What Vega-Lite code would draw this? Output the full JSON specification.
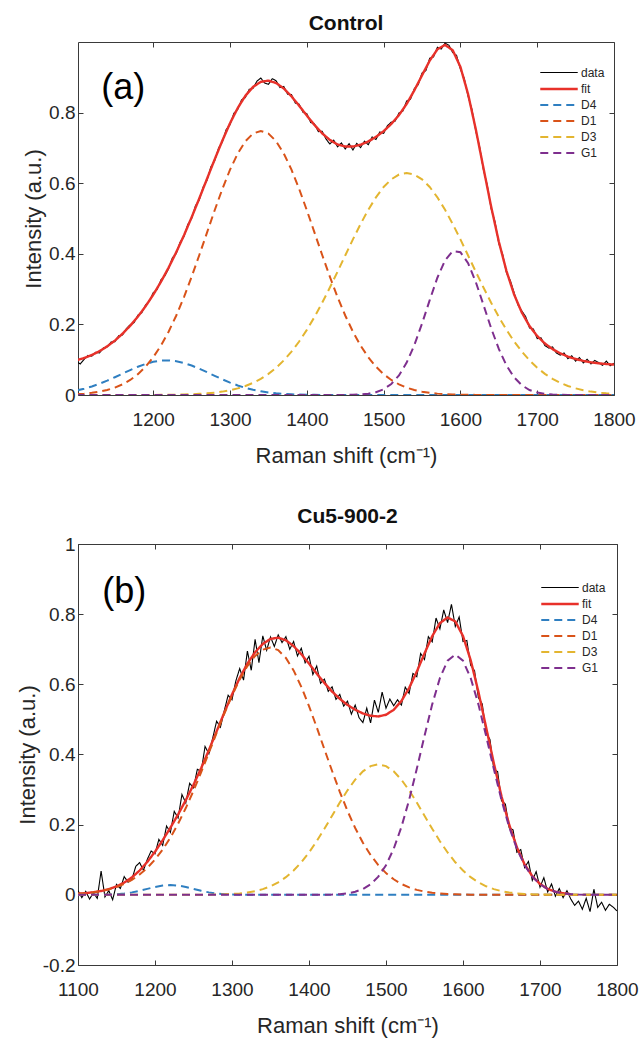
{
"$schema": "https://vega.github.io/schema/vega-lite/v6.json",
"padding": {"left": 15, "top": 12, "right": 5, "bottom": 5},
"bounds": "flush",
"spacing": 149,
"config": {
  "font": "Liberation Sans",
  "view": {"stroke": "#3a3a3a", "strokeWidth": 1},
  "axis": {"labelFont": "Liberation Sans", "titleFont": "Liberation Sans", "labelFontSize": 19, "titleFontSize": 22, "titleFontWeight": "normal", "labelColor": "#262626", "titleColor": "#262626", "tickColor": "#3a3a3a", "tickSize": -5, "grid": false, "domain": false, "labelPadding": 8, "labelFlush": false, "labelOverlap": false},
  "axisX": {"labelPadding": 20, "titlePadding": 16},
  "axisY": {"titlePadding": 3},
  "title": {"font": "Liberation Sans", "fontSize": 21, "fontWeight": "bold", "color": "#111111"},
  "legend": {"labelFont": "Liberation Sans", "labelFontSize": 12, "labelColor": "#262626", "symbolType": "M-2.2,0H2.2", "symbolSize": 290, "rowPadding": -1, "labelOffset": 12, "padding": 0, "title": null}
},
"resolve": {"scale": {"color": "independent", "strokeDash": "independent", "strokeWidth": "independent"}},
"datasets": {
"da": [
{"x":1100,"data":0.094},{"x":1105,"data":0.088},{"x":1110,"data":0.101},{"x":1115,"data":0.112},{"x":1120,"data":0.110},{"x":1125,"data":0.121},{"x":1130,"data":0.119},{"x":1135,"data":0.133},{"x":1140,"data":0.136},{"x":1145,"data":0.150},
{"x":1150,"data":0.151},{"x":1155,"data":0.168},{"x":1160,"data":0.170},{"x":1165,"data":0.188},{"x":1170,"data":0.199},{"x":1175,"data":0.205},{"x":1180,"data":0.226},{"x":1185,"data":0.233},{"x":1190,"data":0.255},{"x":1195,"data":0.266},
{"x":1200,"data":0.290},{"x":1205,"data":0.299},{"x":1210,"data":0.326},{"x":1215,"data":0.337},{"x":1220,"data":0.358},{"x":1225,"data":0.389},{"x":1230,"data":0.401},{"x":1235,"data":0.433},{"x":1240,"data":0.449},{"x":1245,"data":0.483},
{"x":1250,"data":0.500},{"x":1255,"data":0.536},{"x":1260,"data":0.553},{"x":1265,"data":0.589},{"x":1270,"data":0.608},{"x":1275,"data":0.646},{"x":1280,"data":0.664},{"x":1285,"data":0.699},{"x":1290,"data":0.717},{"x":1295,"data":0.752},
{"x":1300,"data":0.766},{"x":1305,"data":0.798},{"x":1310,"data":0.809},{"x":1315,"data":0.836},{"x":1320,"data":0.843},{"x":1325,"data":0.866},{"x":1330,"data":0.869},{"x":1335,"data":0.889},{"x":1340,"data":0.898},{"x":1345,"data":0.884},
{"x":1350,"data":0.880},{"x":1355,"data":0.896},{"x":1360,"data":0.890},{"x":1365,"data":0.871},{"x":1370,"data":0.874},{"x":1375,"data":0.852},{"x":1380,"data":0.851},{"x":1385,"data":0.827},{"x":1390,"data":0.824},{"x":1395,"data":0.801},
{"x":1400,"data":0.797},{"x":1405,"data":0.772},{"x":1410,"data":0.768},{"x":1415,"data":0.746},{"x":1420,"data":0.747},{"x":1425,"data":0.725},{"x":1430,"data":0.711},{"x":1435,"data":0.722},{"x":1440,"data":0.703},{"x":1445,"data":0.714},
{"x":1450,"data":0.697},{"x":1455,"data":0.712},{"x":1460,"data":0.694},{"x":1465,"data":0.713},{"x":1470,"data":0.701},{"x":1475,"data":0.719},{"x":1480,"data":0.709},{"x":1485,"data":0.731},{"x":1490,"data":0.724},{"x":1495,"data":0.745},
{"x":1500,"data":0.741},{"x":1505,"data":0.763},{"x":1510,"data":0.773},{"x":1515,"data":0.776},{"x":1520,"data":0.799},{"x":1525,"data":0.804},{"x":1530,"data":0.833},{"x":1535,"data":0.838},{"x":1540,"data":0.868},{"x":1545,"data":0.879},
{"x":1550,"data":0.912},{"x":1555,"data":0.919},{"x":1560,"data":0.954},{"x":1565,"data":0.958},{"x":1570,"data":0.985},{"x":1575,"data":0.980},{"x":1580,"data":0.997},{"x":1585,"data":0.991},{"x":1590,"data":0.970},{"x":1595,"data":0.962},
{"x":1600,"data":0.923},{"x":1605,"data":0.897},{"x":1610,"data":0.846},{"x":1615,"data":0.809},{"x":1620,"data":0.748},{"x":1625,"data":0.703},{"x":1630,"data":0.638},{"x":1635,"data":0.594},{"x":1640,"data":0.528},{"x":1645,"data":0.491},
{"x":1650,"data":0.429},{"x":1655,"data":0.398},{"x":1660,"data":0.346},{"x":1665,"data":0.324},{"x":1670,"data":0.289},{"x":1675,"data":0.255},{"x":1680,"data":0.238},{"x":1685,"data":0.222},{"x":1690,"data":0.190},{"x":1695,"data":0.187},
{"x":1700,"data":0.160},{"x":1705,"data":0.162},{"x":1710,"data":0.140},{"x":1715,"data":0.133},{"x":1720,"data":0.136},{"x":1725,"data":0.119},{"x":1730,"data":0.113},{"x":1735,"data":0.119},{"x":1740,"data":0.103},{"x":1745,"data":0.111},
{"x":1750,"data":0.096},{"x":1755,"data":0.106},{"x":1760,"data":0.091},{"x":1765,"data":0.101},{"x":1770,"data":0.088},{"x":1775,"data":0.098},{"x":1780,"data":0.092},{"x":1785,"data":0.084},{"x":1790,"data":0.096},{"x":1795,"data":0.083},{"x":1800,"data":0.090}
],
"ca": [
{"x":1100,"fit":0.0983,"D4":0.0128,"D1":0.0025,"D3":0,"G1":0},
{"x":1110,"fit":0.1048,"D4":0.0179,"D1":0.0039,"D3":0,"G1":0},
{"x":1120,"fit":0.1133,"D4":0.0242,"D1":0.0061,"D3":0,"G1":0},
{"x":1130,"fit":0.1242,"D4":0.0318,"D1":0.0094,"D3":0,"G1":0},
{"x":1140,"fit":0.1378,"D4":0.0406,"D1":0.0142,"D3":0,"G1":0},
{"x":1150,"fit":0.1541,"D4":0.0503,"D1":0.0208,"D3":0,"G1":0},
{"x":1160,"fit":0.1736,"D4":0.0605,"D1":0.0301,"D3":0,"G1":0},
{"x":1170,"fit":0.1962,"D4":0.0706,"D1":0.0426,"D3":0,"G1":0},
{"x":1180,"fit":0.2221,"D4":0.0800,"D1":0.0590,"D3":0.0001,"G1":0},
{"x":1190,"fit":0.2513,"D4":0.0879,"D1":0.0803,"D3":0.0001,"G1":0},
{"x":1200,"fit":0.2841,"D4":0.0939,"D1":0.1070,"D3":0.0002,"G1":0},
{"x":1210,"fit":0.3207,"D4":0.0973,"D1":0.1400,"D3":0.0004,"G1":0},
{"x":1220,"fit":0.3609,"D4":0.0979,"D1":0.1794,"D3":0.0006,"G1":0},
{"x":1230,"fit":0.4048,"D4":0.0956,"D1":0.2253,"D3":0.0009,"G1":0},
{"x":1240,"fit":0.4524,"D4":0.0906,"D1":0.2774,"D3":0.0014,"G1":0},
{"x":1250,"fit":0.5035,"D4":0.0834,"D1":0.3350,"D3":0.0021,"G1":0},
{"x":1260,"fit":0.5572,"D4":0.0745,"D1":0.3965,"D3":0.0032,"G1":0},
{"x":1270,"fit":0.6124,"D4":0.0646,"D1":0.4601,"D3":0.0047,"G1":0},
{"x":1280,"fit":0.6674,"D4":0.0543,"D1":0.5234,"D3":0.0067,"G1":0},
{"x":1290,"fit":0.7207,"D4":0.0444,"D1":0.5837,"D3":0.0096,"G1":0},
{"x":1300,"fit":0.7700,"D4":0.0352,"D1":0.6383,"D3":0.0135,"G1":0},
{"x":1310,"fit":0.8130,"D4":0.0271,"D1":0.6841,"D3":0.0188,"G1":0},
{"x":1320,"fit":0.8477,"D4":0.0202,"D1":0.7189,"D3":0.0256,"G1":0},
{"x":1330,"fit":0.8728,"D4":0.0147,"D1":0.7406,"D3":0.0345,"G1":0},
{"x":1340,"fit":0.8871,"D4":0.0103,"D1":0.7480,"D3":0.0458,"G1":0},
{"x":1350,"fit":0.8906,"D4":0.0071,"D1":0.7406,"D3":0.0599,"G1":0},
{"x":1360,"fit":0.8838,"D4":0.0047,"D1":0.7189,"D3":0.0772,"G1":0},
{"x":1370,"fit":0.8682,"D4":0.0030,"D1":0.6841,"D3":0.0981,"G1":0},
{"x":1380,"fit":0.8461,"D4":0.0019,"D1":0.6383,"D3":0.1229,"G1":0},
{"x":1390,"fit":0.8194,"D4":0.0011,"D1":0.5837,"D3":0.1516,"G1":0},
{"x":1400,"fit":0.7916,"D4":0.0007,"D1":0.5234,"D3":0.1845,"G1":0},
{"x":1410,"fit":0.7647,"D4":0.0004,"D1":0.4601,"D3":0.2212,"G1":0},
{"x":1420,"fit":0.7411,"D4":0.0002,"D1":0.3965,"D3":0.2614,"G1":0},
{"x":1430,"fit":0.7225,"D4":0.0001,"D1":0.3350,"D3":0.3044,"G1":0},
{"x":1440,"fit":0.7099,"D4":0,"D1":0.2774,"D3":0.3494,"G1":0.0001},
{"x":1450,"fit":0.7038,"D4":0,"D1":0.2253,"D3":0.3953,"G1":0.0002},
{"x":1460,"fit":0.7038,"D4":0,"D1":0.1794,"D3":0.4408,"G1":0.0006},
{"x":1470,"fit":0.7089,"D4":0,"D1":0.1400,"D3":0.4844,"G1":0.0015},
{"x":1480,"fit":0.7182,"D4":0,"D1":0.1070,"D3":0.5246,"G1":0.0036},
{"x":1490,"fit":0.7312,"D4":0,"D1":0.0803,"D3":0.5600,"G1":0.0079},
{"x":1500,"fit":0.7475,"D4":0,"D1":0.0590,"D3":0.5892,"G1":0.0163},
{"x":1510,"fit":0.7678,"D4":0,"D1":0.0426,"D3":0.6110,"G1":0.0312},
{"x":1520,"fit":0.7931,"D4":0,"D1":0.0301,"D3":0.6245,"G1":0.0555},
{"x":1530,"fit":0.8246,"D4":0,"D1":0.0208,"D3":0.6290,"G1":0.0918},
{"x":1540,"fit":0.8630,"D4":0,"D1":0.0142,"D3":0.6245,"G1":0.1413},
{"x":1550,"fit":0.9056,"D4":0,"D1":0.0094,"D3":0.6110,"G1":0.2022},
{"x":1560,"fit":0.9471,"D4":0,"D1":0.0061,"D3":0.5892,"G1":0.2688},
{"x":1570,"fit":0.9791,"D4":0,"D1":0.0039,"D3":0.5600,"G1":0.3322},
{"x":1580,"fit":0.9918,"D4":0,"D1":0.0025,"D3":0.5246,"G1":0.3817},
{"x":1590,"fit":0.9765,"D4":0,"D1":0.0015,"D3":0.4844,"G1":0.4076},
{"x":1600,"fit":0.9294,"D4":0,"D1":0.0009,"D3":0.4408,"G1":0.4047},
{"x":1610,"fit":0.8522,"D4":0,"D1":0.0005,"D3":0.3953,"G1":0.3734},
{"x":1620,"fit":0.7530,"D4":0,"D1":0.0003,"D3":0.3494,"G1":0.3203},
{"x":1630,"fit":0.6430,"D4":0,"D1":0.0002,"D3":0.3044,"G1":0.2554},
{"x":1640,"fit":0.5338,"D4":0,"D1":0.0001,"D3":0.2614,"G1":0.1893},
{"x":1650,"fit":0.4346,"D4":0,"D1":0,"D3":0.2212,"G1":0.1304},
{"x":1660,"fit":0.3510,"D4":0,"D1":0,"D3":0.1845,"G1":0.0835},
{"x":1670,"fit":0.2843,"D4":0,"D1":0,"D3":0.1516,"G1":0.0497},
{"x":1680,"fit":0.2334,"D4":0,"D1":0,"D3":0.1229,"G1":0.0275},
{"x":1690,"fit":0.1953,"D4":0,"D1":0,"D3":0.0981,"G1":0.0142},
{"x":1700,"fit":0.1670,"D4":0,"D1":0,"D3":0.0772,"G1":0.0068},
{"x":1710,"fit":0.1459,"D4":0,"D1":0,"D3":0.0599,"G1":0.0030},
{"x":1720,"fit":0.1300,"D4":0,"D1":0,"D3":0.0458,"G1":0.0012},
{"x":1730,"fit":0.1180,"D4":0,"D1":0,"D3":0.0345,"G1":0.0005},
{"x":1740,"fit":0.1088,"D4":0,"D1":0,"D3":0.0256,"G1":0.0002},
{"x":1750,"fit":0.1019,"D4":0,"D1":0,"D3":0.0188,"G1":0.0001},
{"x":1760,"fit":0.0965,"D4":0,"D1":0,"D3":0.0135,"G1":0},
{"x":1770,"fit":0.0926,"D4":0,"D1":0,"D3":0.0096,"G1":0},
{"x":1780,"fit":0.0897,"D4":0,"D1":0,"D3":0.0067,"G1":0},
{"x":1790,"fit":0.0877,"D4":0,"D1":0,"D3":0.0047,"G1":0},
{"x":1800,"fit":0.0862,"D4":0,"D1":0,"D3":0.0032,"G1":0}
],
"db": [
{"x":1100,"data":0.012},{"x":1105,"data":-0.008},{"x":1110,"data":0.010},{"x":1115,"data":-0.012},{"x":1120,"data":0.006},{"x":1125,"data":-0.010},{"x":1130,"data":0.068},{"x":1135,"data":-0.006},{"x":1140,"data":0.012},{"x":1145,"data":-0.014},
{"x":1150,"data":0.030},{"x":1155,"data":0.018},{"x":1160,"data":0.052},{"x":1165,"data":0.036},{"x":1170,"data":0.044},{"x":1175,"data":0.081},{"x":1180,"data":0.092},{"x":1185,"data":0.070},{"x":1190,"data":0.101},{"x":1195,"data":0.125},
{"x":1200,"data":0.117},{"x":1205,"data":0.158},{"x":1210,"data":0.141},{"x":1215,"data":0.196},{"x":1220,"data":0.178},{"x":1225,"data":0.238},{"x":1230,"data":0.219},{"x":1235,"data":0.286},{"x":1240,"data":0.262},{"x":1245,"data":0.318},
{"x":1250,"data":0.305},{"x":1255,"data":0.358},{"x":1260,"data":0.352},{"x":1265,"data":0.423},{"x":1270,"data":0.402},{"x":1275,"data":0.447},{"x":1280,"data":0.495},{"x":1285,"data":0.478},{"x":1290,"data":0.525},{"x":1295,"data":0.569},
{"x":1300,"data":0.556},{"x":1305,"data":0.610},{"x":1310,"data":0.645},{"x":1315,"data":0.612},{"x":1320,"data":0.695},{"x":1325,"data":0.640},{"x":1330,"data":0.728},{"x":1335,"data":0.662},{"x":1340,"data":0.738},{"x":1345,"data":0.697},
{"x":1350,"data":0.735},{"x":1355,"data":0.708},{"x":1360,"data":0.741},{"x":1365,"data":0.719},{"x":1370,"data":0.736},{"x":1375,"data":0.700},{"x":1380,"data":0.722},{"x":1385,"data":0.681},{"x":1390,"data":0.703},{"x":1395,"data":0.661},
{"x":1400,"data":0.680},{"x":1405,"data":0.628},{"x":1410,"data":0.652},{"x":1415,"data":0.603},{"x":1420,"data":0.615},{"x":1425,"data":0.580},{"x":1430,"data":0.593},{"x":1435,"data":0.557},{"x":1440,"data":0.571},{"x":1445,"data":0.538},
{"x":1450,"data":0.552},{"x":1455,"data":0.515},{"x":1460,"data":0.541},{"x":1465,"data":0.505},{"x":1470,"data":0.491},{"x":1475,"data":0.532},{"x":1480,"data":0.490},{"x":1485,"data":0.555},{"x":1490,"data":0.520},{"x":1495,"data":0.578},
{"x":1500,"data":0.532},{"x":1505,"data":0.558},{"x":1510,"data":0.539},{"x":1515,"data":0.556},{"x":1520,"data":0.541},{"x":1525,"data":0.592},{"x":1530,"data":0.574},{"x":1535,"data":0.631},{"x":1540,"data":0.622},{"x":1545,"data":0.688},
{"x":1550,"data":0.671},{"x":1555,"data":0.736},{"x":1560,"data":0.721},{"x":1565,"data":0.789},{"x":1570,"data":0.758},{"x":1575,"data":0.812},{"x":1580,"data":0.776},{"x":1585,"data":0.828},{"x":1590,"data":0.765},{"x":1595,"data":0.792},
{"x":1600,"data":0.722},{"x":1605,"data":0.725},{"x":1610,"data":0.654},{"x":1615,"data":0.639},{"x":1620,"data":0.562},{"x":1625,"data":0.544},{"x":1630,"data":0.462},{"x":1635,"data":0.443},{"x":1640,"data":0.358},{"x":1645,"data":0.351},
{"x":1650,"data":0.268},{"x":1655,"data":0.259},{"x":1660,"data":0.191},{"x":1665,"data":0.185},{"x":1670,"data":0.121},{"x":1675,"data":0.129},{"x":1680,"data":0.078},{"x":1685,"data":0.095},{"x":1690,"data":0.041},{"x":1695,"data":0.066},
{"x":1700,"data":0.022},{"x":1705,"data":0.049},{"x":1710,"data":0.008},{"x":1715,"data":0.031},{"x":1720,"data":-0.004},{"x":1725,"data":0.018},{"x":1730,"data":-0.008},{"x":1735,"data":0.012},{"x":1740,"data":-0.012},{"x":1745,"data":-0.030},
{"x":1750,"data":-0.018},{"x":1755,"data":-0.041},{"x":1760,"data":-0.010},{"x":1765,"data":-0.048},{"x":1770,"data":0.016},{"x":1775,"data":-0.036},{"x":1780,"data":-0.021},{"x":1785,"data":-0.044},{"x":1790,"data":-0.027},{"x":1795,"data":-0.035},{"x":1800,"data":-0.046}
],
"cb": [
{"x":1100,"fit":0.0032,"D4":0,"D1":0.0032,"D3":0,"G1":0},
{"x":1110,"fit":0.0048,"D4":0,"D1":0.0048,"D3":0,"G1":0},
{"x":1120,"fit":0.0073,"D4":0.0001,"D1":0.0072,"D3":0,"G1":0},
{"x":1130,"fit":0.0110,"D4":0.0003,"D1":0.0107,"D3":0,"G1":0},
{"x":1140,"fit":0.0163,"D4":0.0008,"D1":0.0155,"D3":0,"G1":0},
{"x":1150,"fit":0.0239,"D4":0.0018,"D1":0.0221,"D3":0,"G1":0},
{"x":1160,"fit":0.0348,"D4":0.0038,"D1":0.0310,"D3":0,"G1":0},
{"x":1170,"fit":0.0497,"D4":0.0070,"D1":0.0427,"D3":0,"G1":0},
{"x":1180,"fit":0.0693,"D4":0.0115,"D1":0.0578,"D3":0,"G1":0},
{"x":1190,"fit":0.0939,"D4":0.0170,"D1":0.0769,"D3":0,"G1":0},
{"x":1200,"fit":0.1229,"D4":0.0224,"D1":0.1005,"D3":0,"G1":0},
{"x":1210,"fit":0.1557,"D4":0.0265,"D1":0.1292,"D3":0,"G1":0},
{"x":1220,"fit":0.1913,"D4":0.0280,"D1":0.1633,"D3":0,"G1":0},
{"x":1230,"fit":0.2292,"D4":0.0265,"D1":0.2027,"D3":0,"G1":0},
{"x":1240,"fit":0.2698,"D4":0.0224,"D1":0.2474,"D3":0,"G1":0},
{"x":1250,"fit":0.3138,"D4":0.0170,"D1":0.2967,"D3":0.0001,"G1":0},
{"x":1260,"fit":0.3614,"D4":0.0115,"D1":0.3497,"D3":0.0002,"G1":0},
{"x":1270,"fit":0.4126,"D4":0.0070,"D1":0.4052,"D3":0.0004,"G1":0},
{"x":1280,"fit":0.4659,"D4":0.0038,"D1":0.4613,"D3":0.0008,"G1":0},
{"x":1290,"fit":0.5195,"D4":0.0018,"D1":0.5163,"D3":0.0014,"G1":0},
{"x":1300,"fit":0.5711,"D4":0.0008,"D1":0.5678,"D3":0.0025,"G1":0},
{"x":1310,"fit":0.6182,"D4":0.0003,"D1":0.6138,"D3":0.0041,"G1":0},
{"x":1320,"fit":0.6589,"D4":0,"D1":0.6522,"D3":0.0067,"G1":0},
{"x":1330,"fit":0.6916,"D4":0,"D1":0.6810,"D3":0.0106,"G1":0},
{"x":1340,"fit":0.7152,"D4":0,"D1":0.6989,"D3":0.0163,"G1":0},
{"x":1350,"fit":0.7294,"D4":0,"D1":0.7050,"D3":0.0244,"G1":0},
{"x":1360,"fit":0.7330,"D4":0,"D1":0.6974,"D3":0.0356,"G1":0},
{"x":1370,"fit":0.7255,"D4":0,"D1":0.6752,"D3":0.0503,"G1":0},
{"x":1380,"fit":0.7090,"D4":0,"D1":0.6397,"D3":0.0693,"G1":0},
{"x":1390,"fit":0.6858,"D4":0,"D1":0.5930,"D3":0.0928,"G1":0},
{"x":1400,"fit":0.6590,"D4":0,"D1":0.5381,"D3":0.1208,"G1":0.0001},
{"x":1410,"fit":0.6308,"D4":0,"D1":0.4777,"D3":0.1529,"G1":0.0002},
{"x":1420,"fit":0.6037,"D4":0,"D1":0.4150,"D3":0.1883,"G1":0.0004},
{"x":1430,"fit":0.5794,"D4":0,"D1":0.3529,"D3":0.2256,"G1":0.0009},
{"x":1440,"fit":0.5585,"D4":0,"D1":0.2936,"D3":0.2629,"G1":0.0020},
{"x":1450,"fit":0.5413,"D4":0,"D1":0.2391,"D3":0.2979,"G1":0.0043},
{"x":1460,"fit":0.5276,"D4":0,"D1":0.1906,"D3":0.3283,"G1":0.0087},
{"x":1470,"fit":0.5170,"D4":0,"D1":0.1485,"D3":0.3519,"G1":0.0166},
{"x":1480,"fit":0.5104,"D4":0,"D1":0.1134,"D3":0.3669,"G1":0.0301},
{"x":1490,"fit":0.5085,"D4":0,"D1":0.0847,"D3":0.3720,"G1":0.0518},
{"x":1500,"fit":0.5133,"D4":0,"D1":0.0619,"D3":0.3669,"G1":0.0845},
{"x":1510,"fit":0.5274,"D4":0,"D1":0.0443,"D3":0.3519,"G1":0.1312},
{"x":1520,"fit":0.5525,"D4":0,"D1":0.0310,"D3":0.3283,"G1":0.1932},
{"x":1530,"fit":0.5894,"D4":0,"D1":0.0212,"D3":0.2979,"G1":0.2703},
{"x":1540,"fit":0.6362,"D4":0,"D1":0.0142,"D3":0.2629,"G1":0.3591},
{"x":1550,"fit":0.6880,"D4":0,"D1":0.0093,"D3":0.2256,"G1":0.4531},
{"x":1560,"fit":0.7372,"D4":0,"D1":0.0060,"D3":0.1883,"G1":0.5429},
{"x":1570,"fit":0.7745,"D4":0,"D1":0.0038,"D3":0.1529,"G1":0.6178},
{"x":1580,"fit":0.7906,"D4":0,"D1":0.0023,"D3":0.1208,"G1":0.6675},
{"x":1590,"fit":0.7792,"D4":0,"D1":0.0014,"D3":0.0928,"G1":0.6850},
{"x":1600,"fit":0.7376,"D4":0,"D1":0.0008,"D3":0.0693,"G1":0.6675},
{"x":1610,"fit":0.6686,"D4":0,"D1":0.0005,"D3":0.0503,"G1":0.6178},
{"x":1620,"fit":0.5788,"D4":0,"D1":0.0003,"D3":0.0356,"G1":0.5429},
{"x":1630,"fit":0.4777,"D4":0,"D1":0.0002,"D3":0.0244,"G1":0.4531},
{"x":1640,"fit":0.3755,"D4":0,"D1":0.0001,"D3":0.0163,"G1":0.3591},
{"x":1650,"fit":0.2809,"D4":0,"D1":0,"D3":0.0106,"G1":0.2703},
{"x":1660,"fit":0.1999,"D4":0,"D1":0,"D3":0.0067,"G1":0.1932},
{"x":1670,"fit":0.1353,"D4":0,"D1":0,"D3":0.0041,"G1":0.1312},
{"x":1680,"fit":0.0870,"D4":0,"D1":0,"D3":0.0025,"G1":0.0845},
{"x":1690,"fit":0.0532,"D4":0,"D1":0,"D3":0.0014,"G1":0.0518},
{"x":1700,"fit":0.0309,"D4":0,"D1":0,"D3":0.0008,"G1":0.0301},
{"x":1710,"fit":0.0170,"D4":0,"D1":0,"D3":0.0004,"G1":0.0166},
{"x":1720,"fit":0.0089,"D4":0,"D1":0,"D3":0.0002,"G1":0.0087},
{"x":1730,"fit":0.0044,"D4":0,"D1":0,"D3":0.0001,"G1":0.0043},
{"x":1740,"fit":0.0020,"D4":0,"D1":0,"D3":0,"G1":0.0020},
{"x":1750,"D4":0,"D1":0,"D3":0,"G1":0.0009},
{"x":1760,"D4":0,"D1":0,"D3":0,"G1":0.0004},
{"x":1770,"D4":0,"D1":0,"D3":0,"G1":0.0002},
{"x":1780,"D4":0,"D1":0,"D3":0,"G1":0.0001},
{"x":1790,"D4":0,"D1":0,"D3":0,"G1":0},
{"x":1800,"D4":0,"D1":0,"D3":0,"G1":0}
]
},
"vconcat": [
{
  "width": 536, "height": 353,
  "title": {"text": "Control", "offset": 8},
  "resolve": {"axis": {"x": "independent", "y": "independent"}},
  "layer": [
    {
      "data": {"name": "da"},
      "transform": [{"fold": ["data"], "as": ["series", "y"]}],
      "mark": {"type": "line", "clip": true},
      "encoding": {
        "x": {"field": "x", "type": "quantitative", "scale": {"domain": [1102, 1800], "nice": false, "zero": false}, "axis": {"orient": "bottom", "values": [1200, 1300, 1400, 1500, 1600, 1700, 1800], "format": "d", "title": "Raman shift (cm⁻¹)"}},
        "y": {"field": "y", "type": "quantitative", "scale": {"domain": [0, 1], "nice": false, "zero": false}, "axis": {"orient": "left", "values": [0, 0.2, 0.4, 0.6, 0.8], "labelExpr": "datum.value < 0 ? '-' + format(-datum.value, '.1~f') : format(datum.value, '.1~f')", "title": "Intensity (a.u.)"}},
        "color": {"field": "series", "type": "nominal", "scale": {"domain": ["data", "fit", "D4", "D1", "D3", "G1"], "range": ["#000000", "#e8312a", "#2f7fc1", "#d95319", "#e3b530", "#7e2f8e"]}, "legend": {"orient": "none", "legendX": 471, "legendY": 21, "symbolType": "M-2.2,0H2.2", "symbolSize": 290}},
        "strokeDash": {"field": "series", "type": "nominal", "scale": {"domain": ["data", "fit", "D4", "D1", "D3", "G1"], "range": [[1, 0], [1, 0], [8, 5], [8, 5], [8, 5], [8, 5]]}, "legend": {"orient": "none", "legendX": 471, "legendY": 21, "symbolType": "M-2.2,0H2.2", "symbolSize": 290}},
        "strokeWidth": {"field": "series", "type": "nominal", "scale": {"type": "ordinal", "domain": ["data", "fit", "D4", "D1", "D3", "G1"], "range": [1.1, 2.4, 2, 2, 2, 2]}, "legend": {"orient": "none", "legendX": 471, "legendY": 21, "symbolType": "M-2.2,0H2.2", "symbolSize": 290}}
      }
    },
    {
      "data": {"name": "ca"},
      "transform": [{"fold": ["fit", "D4", "D1", "D3", "G1"], "as": ["series", "y"]}],
      "mark": {"type": "line", "clip": true},
      "encoding": {
        "x": {"field": "x", "type": "quantitative", "axis": {"orient": "top", "values": [1200, 1300, 1400, 1500, 1600, 1700, 1800], "labels": false, "title": null}},
        "y": {"field": "y", "type": "quantitative", "axis": {"orient": "right", "values": [0, 0.2, 0.4, 0.6, 0.8], "labels": false, "title": null}},
        "color": {"field": "series", "type": "nominal", "scale": {"domain": ["data", "fit", "D4", "D1", "D3", "G1"], "range": ["#000000", "#e8312a", "#2f7fc1", "#d95319", "#e3b530", "#7e2f8e"]}, "legend": {"orient": "none", "legendX": 471, "legendY": 21, "symbolType": "M-2.2,0H2.2", "symbolSize": 290}},
        "strokeDash": {"field": "series", "type": "nominal", "scale": {"domain": ["data", "fit", "D4", "D1", "D3", "G1"], "range": [[1, 0], [1, 0], [8, 5], [8, 5], [8, 5], [8, 5]]}, "legend": {"orient": "none", "legendX": 471, "legendY": 21, "symbolType": "M-2.2,0H2.2", "symbolSize": 290}},
        "strokeWidth": {"field": "series", "type": "nominal", "scale": {"type": "ordinal", "domain": ["data", "fit", "D4", "D1", "D3", "G1"], "range": [1.1, 2.4, 2, 2, 2, 2]}, "legend": {"orient": "none", "legendX": 471, "legendY": 21, "symbolType": "M-2.2,0H2.2", "symbolSize": 290}}
      }
    },
    {
      "data": {"values": [{"t": "(a)"}]},
      "mark": {"type": "text", "fontSize": 36, "color": "#000000", "align": "center", "baseline": "middle"},
      "encoding": {
        "x": {"datum": 1161, "type": "quantitative", "axis": null},
        "y": {"datum": 0.87, "type": "quantitative", "axis": null},
        "text": {"field": "t"}
      }
    }
  ]
},
{
  "width": 539, "height": 421,
  "title": {"text": "Cu5-900-2", "offset": 8},
  "resolve": {"axis": {"x": "independent", "y": "independent"}},
  "layer": [
    {
      "data": {"name": "db"},
      "transform": [{"fold": ["data"], "as": ["series", "y"]}],
      "mark": {"type": "line", "clip": true},
      "encoding": {
        "x": {"field": "x", "type": "quantitative", "scale": {"domain": [1100, 1800], "nice": false, "zero": false}, "axis": {"orient": "bottom", "values": [1100, 1200, 1300, 1400, 1500, 1600, 1700, 1800], "format": "d", "title": "Raman shift (cm⁻¹)"}},
        "y": {"field": "y", "type": "quantitative", "scale": {"domain": [-0.2, 1], "nice": false, "zero": false}, "axis": {"orient": "left", "values": [-0.2, 0, 0.2, 0.4, 0.6, 0.8, 1], "labelExpr": "datum.value < 0 ? '-' + format(-datum.value, '.1~f') : format(datum.value, '.1~f')", "title": "Intensity (a.u.)"}},
        "color": {"field": "series", "type": "nominal", "scale": {"domain": ["data", "fit", "D4", "D1", "D3", "G1"], "range": ["#000000", "#e8312a", "#2f7fc1", "#d95319", "#e3b530", "#7e2f8e"]}, "legend": {"orient": "none", "legendX": 472, "legendY": 34, "symbolType": "M-2.2,0H2.2", "symbolSize": 290}},
        "strokeDash": {"field": "series", "type": "nominal", "scale": {"domain": ["data", "fit", "D4", "D1", "D3", "G1"], "range": [[1, 0], [1, 0], [8, 5], [8, 5], [8, 5], [8, 5]]}, "legend": {"orient": "none", "legendX": 472, "legendY": 34, "symbolType": "M-2.2,0H2.2", "symbolSize": 290}},
        "strokeWidth": {"field": "series", "type": "nominal", "scale": {"type": "ordinal", "domain": ["data", "fit", "D4", "D1", "D3", "G1"], "range": [1.1, 2.4, 2, 2, 2, 2]}, "legend": {"orient": "none", "legendX": 472, "legendY": 34, "symbolType": "M-2.2,0H2.2", "symbolSize": 290}}
      }
    },
    {
      "data": {"name": "cb"},
      "transform": [{"fold": ["fit", "D4", "D1", "D3", "G1"], "as": ["series", "y"]}],
      "mark": {"type": "line", "clip": true},
      "encoding": {
        "x": {"field": "x", "type": "quantitative", "axis": {"orient": "top", "values": [1100, 1200, 1300, 1400, 1500, 1600, 1700, 1800], "labels": false, "title": null}},
        "y": {"field": "y", "type": "quantitative", "axis": {"orient": "right", "values": [-0.2, 0, 0.2, 0.4, 0.6, 0.8, 1], "labels": false, "title": null}},
        "color": {"field": "series", "type": "nominal", "scale": {"domain": ["data", "fit", "D4", "D1", "D3", "G1"], "range": ["#000000", "#e8312a", "#2f7fc1", "#d95319", "#e3b530", "#7e2f8e"]}, "legend": {"orient": "none", "legendX": 472, "legendY": 34, "symbolType": "M-2.2,0H2.2", "symbolSize": 290}},
        "strokeDash": {"field": "series", "type": "nominal", "scale": {"domain": ["data", "fit", "D4", "D1", "D3", "G1"], "range": [[1, 0], [1, 0], [8, 5], [8, 5], [8, 5], [8, 5]]}, "legend": {"orient": "none", "legendX": 472, "legendY": 34, "symbolType": "M-2.2,0H2.2", "symbolSize": 290}},
        "strokeWidth": {"field": "series", "type": "nominal", "scale": {"type": "ordinal", "domain": ["data", "fit", "D4", "D1", "D3", "G1"], "range": [1.1, 2.4, 2, 2, 2, 2]}, "legend": {"orient": "none", "legendX": 472, "legendY": 34, "symbolType": "M-2.2,0H2.2", "symbolSize": 290}}
      }
    },
    {
      "data": {"values": [{"t": "(b)"}]},
      "mark": {"type": "text", "fontSize": 36, "color": "#000000", "align": "center", "baseline": "middle"},
      "encoding": {
        "x": {"datum": 1160, "type": "quantitative", "axis": null},
        "y": {"datum": 0.863, "type": "quantitative", "axis": null},
        "text": {"field": "t"}
      }
    }
  ]
}
]
}
